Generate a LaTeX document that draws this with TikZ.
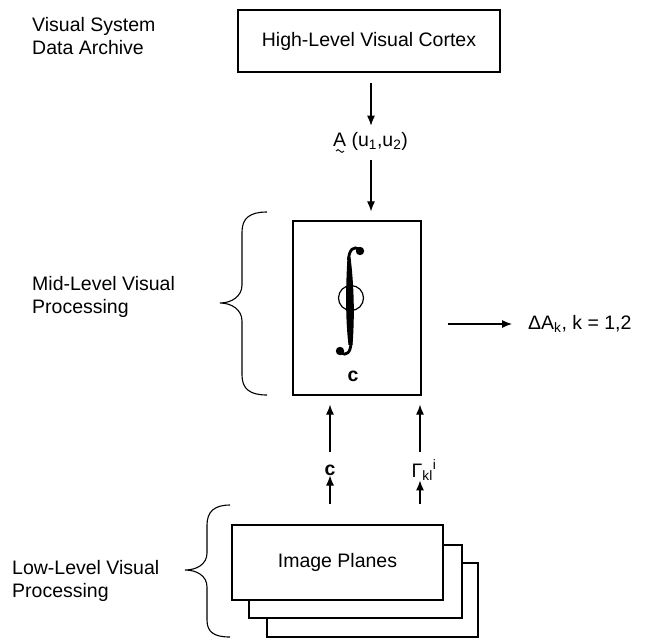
\documentclass[tikz,border=0pt]{standalone}
\usepackage{fontspec}
\setmainfont{Liberation Sans}
\usetikzlibrary{arrows.meta}
\begin{document}
\begin{tikzpicture}[x=1pt,y=-1pt,
  every node/.style={font=\fontsize{19.5}{23}\selectfont, inner sep=0pt},
  box/.style={draw, line width=1.2pt, fill=white},
  arr/.style={-{Latex[length=10pt,width=8pt]}, line width=1.1pt},
  brc/.style={line width=1.1pt}]
\useasboundingbox (0,0) rectangle (655,638);

% labels on the left
\node[anchor=west, align=left] (vs) at (32,36) {Visual System\\Data Archive};
\node[anchor=west, align=left] (ml) at (32,297) {Mid-Level Visual\\Processing};
\node[anchor=west, align=left] (ll) at (12,581) {Low-Level Visual\\Processing};

% high-level box
\node[box, minimum width=262pt, minimum height=62pt] (hl) at (369,41) {High-Level Visual Cortex};

% A label
\node[anchor=base west] (a) at (333,146) {A (u\textsubscript{1},u\textsubscript{2})};
\draw[line width=0.9pt] ([shift={(3,5)}]a.base west) sin ++(2,-1.4) cos ++(2,1.4) sin ++(2,1.4) cos ++(2,-1.4);
\coordinate (ax) at (371,0);

% mid box
\node[box, minimum width=128pt, minimum height=174pt] (mid) at (357,308) {};
\node (cin) at (353,376) {\textbf{c}};

% integral with circle
\fill (350.5,257) .. controls (354.5,290) and (354.5,320) .. (352.5,345)
  -- (348.5,345) .. controls (345.5,320) and (345.5,290) .. (347.5,257) -- cycle;
\draw[line width=2.8pt] (348.5,260) .. controls (349,249) and (354,246) .. (359,249);
\fill (360,251) circle (4.2pt);
\draw[line width=2.8pt] (351,342) .. controls (351,353) and (346,356) .. (341,353);
\fill (340,351) circle (4.2pt);
\draw[line width=1.2pt] (351,298) circle (12.5pt);

% output
\node[anchor=west] (dA) at (528,324) {ΔA\textsubscript{k}, k = 1,2};

% labels between
\node (cl) at (330,470) {\textbf{c}};
\node (gl) at (424,470) {Γ\textsubscript{kl}\textsuperscript{i}};

% image planes
\node[box, minimum width=211pt, minimum height=74pt] (p3) at (372.5,600) {};
\node[box, minimum width=213pt, minimum height=73pt] (p2) at (355.5,581.5) {};
\node[box, minimum width=211pt, minimum height=75pt] (ip) at (337.5,562.5) {Image Planes};

% braces
\draw[brc] (267,212) .. controls (250,212) and (242,218) .. (242,232) -- (242,285)
  .. controls (242,296) and (232,303) .. (220,303)
  .. controls (232,303) and (242,310) .. (242,321) -- (242,375)
  .. controls (242,389) and (250,395) .. (267,395);
\draw[brc] (230,505) .. controls (214,505) and (207,512) .. (207,525) -- (207,553)
  .. controls (207,564) and (197,570) .. (185,570)
  .. controls (197,570) and (207,576) .. (207,587) -- (207,620)
  .. controls (207,632) and (214,637) .. (230,637);

% connectors
\draw[arr, shorten <=10pt, shorten >=6pt] (hl.south -| ax) -- (ax |- a.north);
\draw[arr, shorten <=10pt, shorten >=9pt] (ax |- a.south) -- (ax |- mid.north);
\draw[arr, shorten <=26pt, shorten >=16pt] (mid.east |- dA.west) -- (dA.west);

\coordinate (c0) at (330,504);
\coordinate (c1) at (330,452);
\coordinate (g0) at (420,504);
\coordinate (g1) at (420,452);
\draw[arr] (c0) -- (cl.south);
\draw[arr, shorten >=9pt] (c1) -- (c1 |- mid.south);
\draw[arr] (g0) -- (g0 |- gl.south);
\draw[arr, shorten >=9pt] (g1) -- (g1 |- mid.south);
\end{tikzpicture}
\end{document}
